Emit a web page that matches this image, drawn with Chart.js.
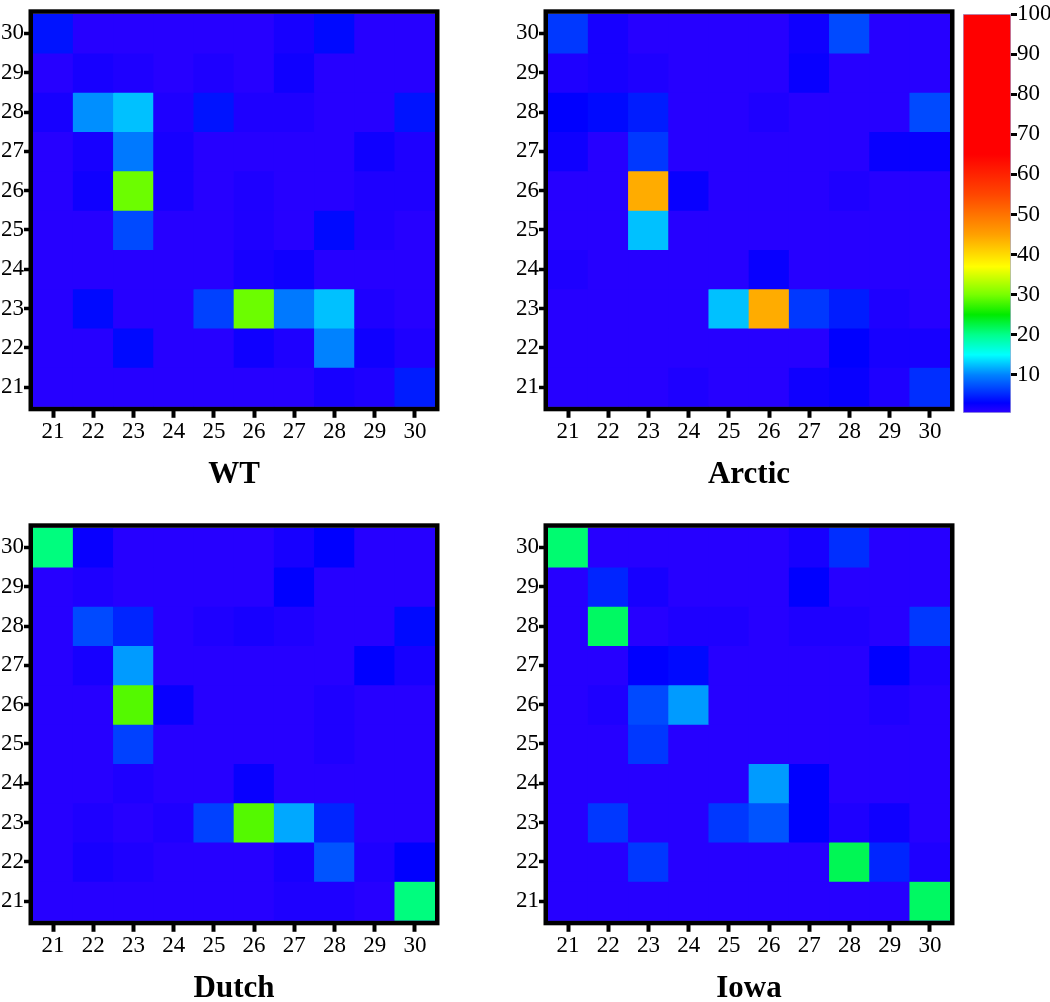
<!DOCTYPE html>
<html>
<head>
<meta charset="utf-8">
<script src="https://cdn.jsdelivr.net/npm/chart.js@4.4.1/dist/chart.umd.min.js"></script>
<style>
  body { margin: 0; background: #fff; width: 1050px; height: 1002px; position: relative; overflow: hidden; }
  canvas { position: absolute; }
</style>
</head>
<body>
<canvas id="wt" width="445" height="494" style="left:0;top:0"></canvas>
<canvas id="arctic" width="445" height="494" style="left:515px;top:0"></canvas>
<canvas id="dutch" width="445" height="494" style="left:0;top:514px"></canvas>
<canvas id="iowa" width="445" height="494" style="left:515px;top:514px"></canvas>
<canvas id="cbar" width="92" height="430" style="left:958px;top:0"></canvas>
<script>
// categories (residue numbers) and tick labels
const xLabels = ['21', '22', '23', '24', '25', '26', '27', '28', '29', '30'];
const yTicks = [21, 22, 23, 24, 25, 26, 27, 28, 29, 30];
const rowsTopDown = [30, 29, 28, 27, 26, 25, 24, 23, 22, 21];
const barTicks = [10, 20, 30, 40, 50, 60, 70, 80, 90, 100];

// values: one row per y (30 at top ... 21 at bottom), columns x = 21 ... 30
const wt = [
  [4, 0.5, 0.5, 0.5, 0.5, 0.5, 1.5, 3.5, 0.5, 0.5],
  [0.5, 1.5, 1, 0.5, 1, 0.5, 2, 0.5, 0.5, 0.5],
  [1.5, 10.5, 12.5, 1, 4, 1, 1, 0.5, 0.5, 4],
  [0.5, 1.5, 9.5, 1.5, 0.5, 0.5, 0.5, 0.5, 2, 1],
  [0.5, 2, 29.5, 1.5, 0.5, 1, 0.5, 0.5, 1, 1],
  [0.5, 0.5, 7, 0.5, 0.5, 1, 0.5, 3.5, 1, 0.5],
  [0.5, 0.5, 0.5, 0.5, 0.5, 1.5, 2, 0.5, 0.5, 0.5],
  [0.5, 3.5, 0.5, 0.5, 6.5, 29.5, 9.5, 12.5, 1, 0.5],
  [0.5, 0.5, 3.5, 0.5, 0.5, 2, 1, 10, 2, 1],
  [0.5, 0.5, 0.5, 0.5, 0.5, 0.5, 0.5, 1.5, 1, 4.5]
];
const arctic = [
  [6, 1.5, 0.5, 0.5, 0.5, 0.5, 2, 7, 0.5, 0.5],
  [1, 1.5, 1, 0.5, 0.5, 0.5, 2.5, 0.5, 0.5, 0.5],
  [3, 3.5, 4.5, 0.5, 0.5, 1, 0.5, 0.5, 0.5, 7],
  [2, 0.5, 6, 0.5, 0.5, 0.5, 0.5, 0.5, 2.5, 2.5],
  [0.5, 0.5, 44, 2.5, 0.5, 0.5, 0.5, 1, 0.5, 0.5],
  [0.5, 0.5, 12.5, 0.5, 0.5, 0.5, 0.5, 0.5, 0.5, 0.5],
  [1, 0.5, 0.5, 0.5, 0.5, 2.5, 0.5, 0.5, 0.5, 0.5],
  [0.5, 0.5, 0.5, 0.5, 12.5, 44, 6, 4.5, 1, 0.5],
  [0.5, 0.5, 0.5, 0.5, 0.5, 0.5, 0.5, 3, 1.5, 1.5],
  [0.5, 0.5, 0.5, 1, 0.5, 0.5, 2, 2.5, 1, 5.5]
];
const dutch = [
  [20.5, 2.5, 0.5, 0.5, 0.5, 0.5, 1.5, 3, 0.5, 0.5],
  [0.5, 1, 0.5, 0.5, 0.5, 0.5, 3, 0.5, 0.5, 0.5],
  [0.5, 7, 5, 0.5, 1, 1.5, 1, 0.5, 0.5, 3.5],
  [0.5, 1.5, 11, 0.5, 0.5, 0.5, 0.5, 0.5, 3, 1.5],
  [0.5, 0.5, 28.5, 2.5, 0.5, 0.5, 0.5, 1, 0.5, 0.5],
  [0.5, 0.5, 6.5, 0.5, 0.5, 0.5, 0.5, 1, 0.5, 0.5],
  [0.5, 0.5, 1, 0.5, 0.5, 2.5, 0.5, 0.5, 0.5, 0.5],
  [0.5, 1, 0.5, 1, 6.5, 28.5, 11.5, 5, 0.5, 0.5],
  [0.5, 1.5, 1, 0.5, 0.5, 0.5, 1.5, 7.5, 1, 3],
  [0.5, 0.5, 0.5, 0.5, 0.5, 0.5, 1, 1, 0.5, 20.5]
];
const iowa = [
  [21, 0.5, 0.5, 0.5, 0.5, 0.5, 1.5, 5.5, 0.5, 0.5],
  [0.5, 5, 1.5, 0.5, 0.5, 0.5, 3, 0.5, 0.5, 0.5],
  [0.5, 21.5, 0.5, 1, 1, 0.5, 1, 1, 0.5, 6],
  [0.5, 0.5, 3, 3.5, 0.5, 0.5, 0.5, 0.5, 3, 1],
  [0.5, 1, 7, 11, 0.5, 0.5, 0.5, 0.5, 1, 0.5],
  [0.5, 0.5, 6, 0.5, 0.5, 0.5, 0.5, 0.5, 0.5, 0.5],
  [0.5, 0.5, 0.5, 0.5, 0.5, 11, 3, 0.5, 0.5, 0.5],
  [0.5, 6, 0.5, 0.5, 6, 7.5, 3, 1, 2, 0.5],
  [0.5, 0.5, 6, 0.5, 0.5, 0.5, 0.5, 22, 5, 1],
  [0.5, 0.5, 0.5, 0.5, 0.5, 0.5, 0.5, 0.5, 0.5, 21.5]
];

// colour scale (value -> rgb)
const colorStops = [
  [0, [45, 0, 255]],
  [3, [0, 0, 255]],
  [10, [0, 130, 255]],
  [15, [0, 255, 255]],
  [20, [0, 255, 140]],
  [25, [0, 235, 0]],
  [30, [120, 255, 0]],
  [37, [255, 255, 0]],
  [45, [255, 160, 0]],
  [55, [255, 70, 0]],
  [65, [255, 0, 0]],
  [100, [255, 0, 0]]
];

function colorFor(v) {
  for (let i = 1; i < colorStops.length; i++) {
    const [v1, c1] = colorStops[i];
    if (v <= v1) {
      const [v0, c0] = colorStops[i - 1];
      const t = (v - v0) / (v1 - v0);
      const c = c0.map((a, k) => Math.round(a + (c1[k] - a) * t));
      return 'rgb(' + c.join(',') + ')';
    }
  }
  return 'rgb(255,0,0)';
}

Chart.defaults.font.family = "'Liberation Serif', 'Times New Roman', serif";
Chart.defaults.color = '#000';

const framePlugin = {
  id: 'frame',
  beforeDatasetsDraw(chart) {
    const { ctx, chartArea: a } = chart;
    ctx.save();
    ctx.fillStyle = colorFor(0.5);
    ctx.fillRect(a.left, a.top, a.width, a.height);
    ctx.restore();
  },
  afterDraw(chart) {
    const { ctx, chartArea: a } = chart;
    ctx.save();
    ctx.lineWidth = 4.5;
    ctx.strokeStyle = '#000';
    ctx.strokeRect(a.left - 2.25, a.top - 2.25, a.width + 4.5, a.height + 4.5);
    ctx.restore();
  }
};

function heatmap(id, values, title) {
  const datasets = rowsTopDown.map((y, i) => ({
    data: xLabels.map(() => [y - 0.5, y + 0.5]),
    backgroundColor: values[i].map(colorFor),
    borderWidth: 0,
    grouped: false,
    barPercentage: 1,
    categoryPercentage: 1
  }));

  new Chart(document.getElementById(id), {
    type: 'bar',
    data: { labels: xLabels, datasets: datasets },
    options: {
      responsive: false,
      animation: false,
      devicePixelRatio: 1,
      layout: { padding: { top: 7, right: 10, left: 0, bottom: 0 } },
      scales: {
        x: {
          grid: { offset: false, drawOnChartArea: false, color: '#000', tickLength: 11, tickWidth: 4 },
          border: { display: false },
          ticks: { padding: 0, maxRotation: 0, font: { size: 23 } },
          afterFit: s => { s.height = 40; }
        },
        y: {
          min: 20.5,
          max: 30.5,
          afterBuildTicks: s => { s.ticks = yTicks.map(v => ({ value: v })); },
          grid: { drawOnChartArea: false, color: '#000', tickLength: 9, tickWidth: 3.5 },
          border: { display: false },
          ticks: { padding: 0, font: { size: 23 } },
          afterFit: s => { s.width = 33; }
        }
      },
      plugins: {
        legend: { display: false },
        tooltip: { enabled: false },
        title: {
          display: true,
          text: title,
          position: 'bottom',
          fullSize: false,
          font: { size: 31, weight: 'bold' },
          padding: { top: 10, bottom: 0 }
        }
      }
    },
    plugins: [framePlugin]
  });
}

heatmap('wt', wt, 'WT');
heatmap('arctic', arctic, 'Arctic');
heatmap('dutch', dutch, 'Dutch');
heatmap('iowa', iowa, 'Iowa');

// colour bar
function barGradient(chart) {
  const y = chart.scales.y;
  if (!chart.chartArea || !y) return colorFor(50);
  const bot = y.getPixelForValue(0.5);
  const top = y.getPixelForValue(100);
  const g = chart.ctx.createLinearGradient(0, bot, 0, top);
  colorStops.forEach(([v, c]) => {
    const t = Math.min(1, Math.max(0, (v - 0.5) / 99.5));
    g.addColorStop(t, 'rgb(' + c.join(',') + ')');
  });
  return g;
}

new Chart(document.getElementById('cbar'), {
  type: 'bar',
  data: {
    labels: [''],
    datasets: [{
      data: [[0.5, 100]],
      backgroundColor: ctx => barGradient(ctx.chart),
      borderColor: '#a9a9d9',
      borderWidth: 1,
      borderSkipped: false,
      barPercentage: 1,
      categoryPercentage: 1
    }]
  },
  options: {
    responsive: false,
    animation: false,
    devicePixelRatio: 1,
    layout: { padding: { top: 14, bottom: 17, left: 5, right: 0 } },
    scales: {
      x: { display: false },
      y: {
        position: 'right',
        min: 0.5,
        max: 100,
        afterBuildTicks: s => { s.ticks = barTicks.map(v => ({ value: v })); },
        grid: { drawOnChartArea: false, color: '#000', tickLength: 6, tickWidth: 3 },
        border: { display: false },
        ticks: { padding: 0, font: { size: 23 } },
        afterFit: s => { s.width = 39; }
      }
    },
    plugins: { legend: { display: false }, tooltip: { enabled: false } }
  }
});
</script>
</body>
</html>
